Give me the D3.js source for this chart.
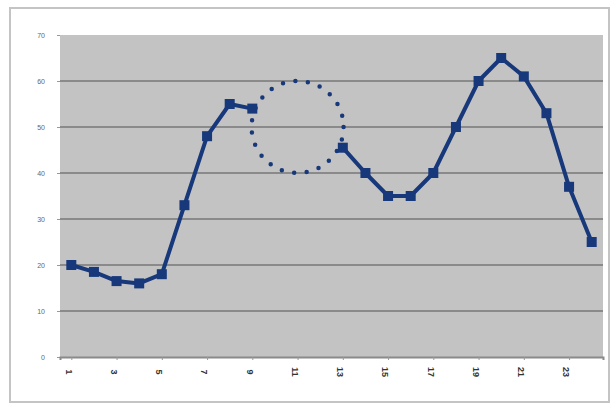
<!DOCTYPE html>
<html>
<head>
<meta charset="utf-8">
<script src="https://cdn.jsdelivr.net/npm/d3@7"></script>
<style>
  html, body { margin: 0; padding: 0; background: #fff; }
  svg { display: block; }
</style>
</head>
<body>
<div id="container"></div>
<script>
// categories 1..24, values (10-12 are missing)
var categories = d3.range(1, 25);
var values = [20, 18.5, 16.5, 16, 18, 33, 48, 55, 54, null, null, null,
              45.5, 40, 35, 35, 40, 50, 60, 65, 61, 53, 37, 25];
var yTicks = [0, 10, 20, 30, 40, 50, 60, 70];
var xTickLabels = [1, 3, 5, 7, 9, 11, 13, 15, 17, 19, 21, 23];
// dotted circle marking the gap: centre category, centre value, radius in value units
var gapCircle = { cat: 11, value: 50, radius: 10 };

var svgWidth = 614, svgHeight = 407;
var margin = { top: 35, right: 11, bottom: 50, left: 60 },
    width = svgWidth - margin.left - margin.right,
    height = svgHeight - margin.top - margin.bottom;

var root = d3.select("div#container")
    .append("svg")
    .attr("width", svgWidth)
    .attr("height", svgHeight);

// outer chart frame
root.append("rect")
    .attr("x", 10).attr("y", 8)
    .attr("width", 599).attr("height", 394)
    .attr("fill", "#fff")
    .attr("stroke", "#c4c4c4")
    .attr("stroke-width", 2);

var svg = root.append("g")
    .attr("transform", "translate(" + margin.left + "," + margin.top + ")");

// --- SCALES ---
var x = d3.scalePoint()
    .domain(categories)
    .range([0, width])
    .padding(0.5);

var y = d3.scaleLinear()
    .domain([0, 70])
    .range([height, 0]);

// plot area
svg.append("rect")
    .attr("width", width)
    .attr("height", height)
    .attr("fill", "#c3c3c3");

// gridlines
svg.selectAll("grid")
    .data(yTicks.filter(d => d > 0 && d < 70))
    .enter()
    .append("line")
    .attr("x1", 0).attr("x2", width)
    .attr("y1", d => y(d)).attr("y2", d => y(d))
    .attr("stroke", "#8a8a8a")
    .attr("stroke-width", 2);

// --- AXES ---
var yAxis = svg.append("g")
    .call(d3.axisLeft(y).tickValues(yTicks).tickSize(3).tickPadding(12));
yAxis.select(".domain").remove();
yAxis.selectAll("line").attr("stroke", "#999");
yAxis.selectAll("text")
    .style("font-family", "Arial")
    .style("font-size", "7px")
    .attr("fill", "#666");

var xAxis = svg.append("g")
    .attr("transform", "translate(0," + height + ")")
    .call(d3.axisBottom(x).tickValues(xTickLabels).tickSize(3).tickPadding(0));
xAxis.select(".domain").attr("stroke", "#8a8a8a").attr("stroke-width", 2);
xAxis.selectAll("line").attr("stroke", "#999");
xAxis.selectAll("text")
    .style("font-family", "Arial")
    .style("font-size", "9px")
    .style("font-weight", "bold")
    .attr("fill", "#333")
    .attr("text-anchor", "middle")
    .attr("dy", "0.35em")
    .attr("transform", "translate(0,15) rotate(90)");

// --- LINE ---
var line = d3.line()
    .defined(d => d.v !== null)
    .x(d => x(d.c))
    .y(d => y(d.v));

var pts = categories.map((c, i) => ({ c: c, v: values[i] }));

svg.append("path")
    .datum(pts)
    .attr("d", line)
    .attr("fill", "none")
    .attr("stroke", "#17387a")
    .attr("stroke-width", 4)
    .attr("stroke-linejoin", "round");

svg.selectAll("marker")
    .data(pts.filter(d => d.v !== null))
    .enter()
    .append("rect")
    .attr("x", d => x(d.c) - 5)
    .attr("y", d => y(d.v) - 5)
    .attr("width", 10)
    .attr("height", 10)
    .attr("fill", "#17387a");

// dotted circle over the gap
svg.append("circle")
    .attr("cx", x(gapCircle.cat))
    .attr("cy", y(gapCircle.value))
    .attr("r", y(gapCircle.value - gapCircle.radius) - y(gapCircle.value))
    .attr("fill", "none")
    .attr("stroke", "#17387a")
    .attr("stroke-width", 4.5)
    .attr("stroke-linecap", "round")
    .attr("stroke-dasharray", "0 12.6");
</script>
</body>
</html>
